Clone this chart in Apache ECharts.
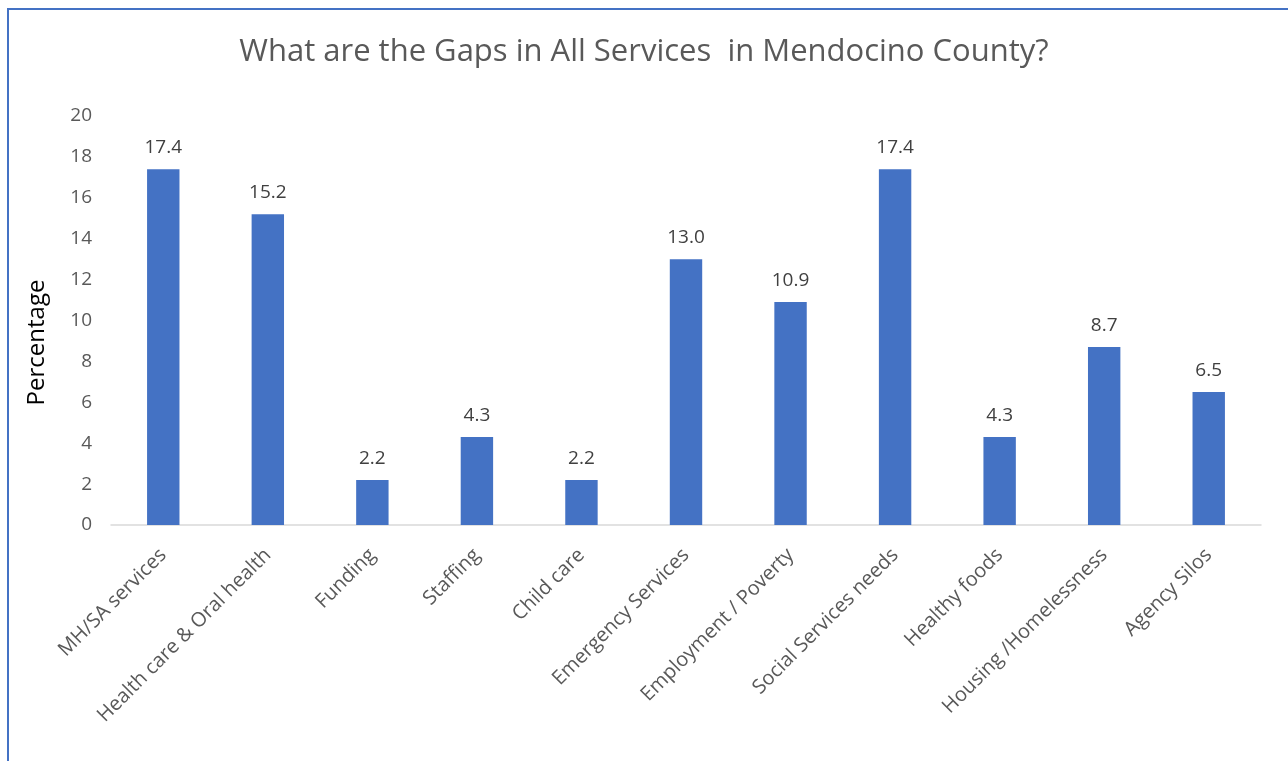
<!DOCTYPE html>
<html>
<head>
<meta charset="utf-8">
<script src="https://cdn.jsdelivr.net/npm/echarts@6/dist/echarts.min.js"></script>
<style>
  html, body { margin: 0; padding: 0; background: #fff; }
  #chart { width: 1288px; height: 761px; }
</style>
</head>
<body>
<div id="chart"></div>
<script>
// Service gap categories and the share of responses naming each one
const categories = [
  'MH/SA services', 'Health care & Oral health', 'Funding', 'Staffing',
  'Child care', 'Emergency Services', 'Employment / Poverty',
  'Social Services needs', 'Healthy foods', 'Housing /Homelessness', 'Agency Silos'
];
const percentages = [17.4, 15.2, 2.2, 4.3, 2.2, 13.0, 10.9, 17.4, 4.3, 8.7, 6.5];
const yTicks = { min: 0, max: 20, interval: 2 };

const FONT = '"Open Sans", sans-serif';
const chart = echarts.init(document.getElementById('chart'));

chart.setOption({
  animation: false,
  title: {
    text: 'What are the Gaps in All Services  in Mendocino County?',
    left: 'center',
    top: 32,
    textStyle: { fontFamily: FONT, fontSize: 31, fontWeight: 'normal', color: '#595959' }
  },
  graphic: [
    {
      type: 'polyline',
      shape: { points: [[8, 761], [8, 9], [1288, 9]] },
      style: { stroke: '#4472C4', lineWidth: 2, fill: null }
    }
  ],
  grid: { left: 111, right: 27, top: 116, bottom: 236 },
  xAxis: {
    type: 'category',
    data: categories,
    axisLine: { lineStyle: { color: '#d9d9d9', width: 1.5 } },
    axisTick: { show: false },
    axisLabel: {
      interval: 0,
      rotate: 45,
      margin: 27,
      fontFamily: FONT,
      fontSize: 20,
      color: '#595959'
    }
  },
  yAxis: {
    type: 'value',
    min: yTicks.min,
    max: yTicks.max,
    interval: yTicks.interval,
    name: 'Percentage',
    nameLocation: 'middle',
    nameGap: 62,
    nameRotate: 90,
    nameTextStyle: { fontFamily: FONT, fontSize: 24, color: '#000', padding: [0, 44, 0, 0] },
    splitLine: { show: false },
    axisLine: { show: false },
    axisTick: { show: false },
    axisLabel: { margin: 19, fontFamily: FONT, fontSize: 19, color: '#595959' }
  },
  series: [{
    type: 'bar',
    data: percentages,
    barWidth: '31%',
    itemStyle: { color: '#4472C4' },
    label: {
      show: true,
      position: 'top',
      distance: 12,
      fontFamily: FONT,
      fontSize: 19,
      color: '#404040',
      formatter: p => p.value.toFixed(1)
    }
  }]
});
</script>
</body>
</html>
